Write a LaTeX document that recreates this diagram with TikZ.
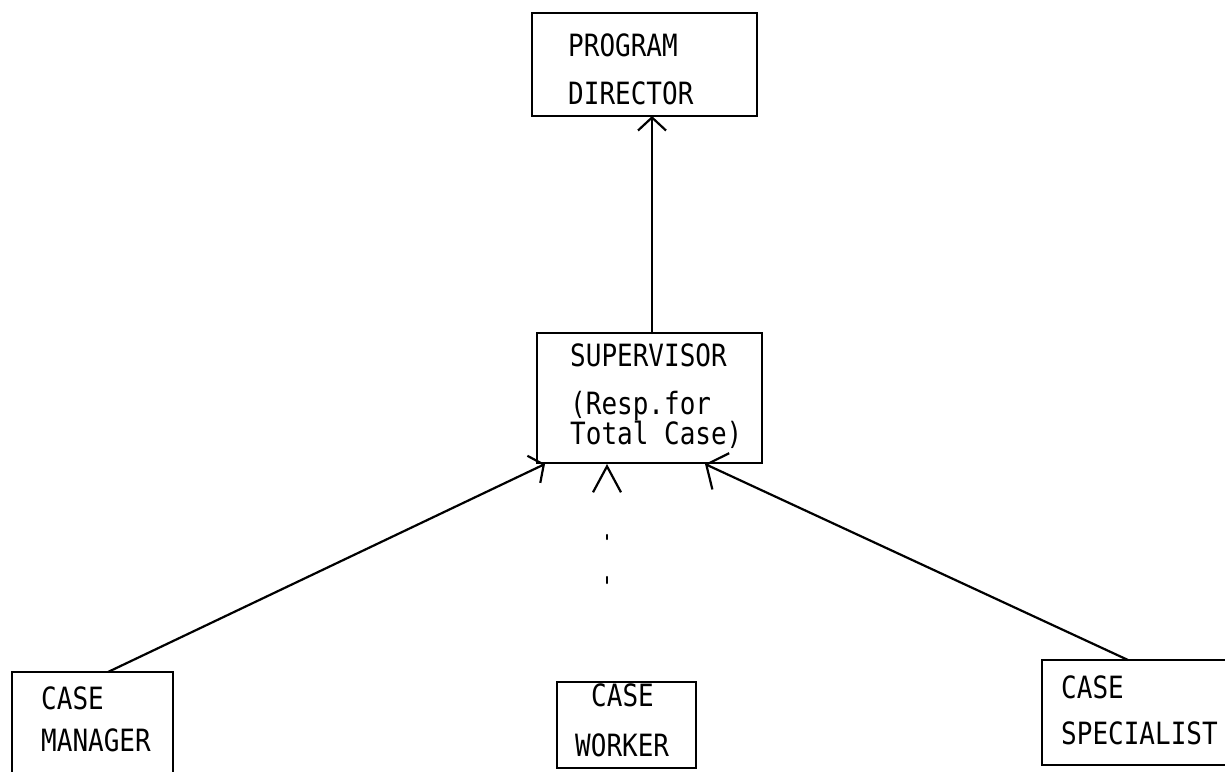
\documentclass[tikz,border=0pt]{standalone}
\usepackage{fontspec}
\usepackage{graphicx}
\newfontfamily\tw{DejaVu Sans Mono}
\newcommand{\tall}[1]{\scalebox{1}[1.18]{#1}}
\usetikzlibrary{arrows.meta,calc}
\begin{document}
\begin{tikzpicture}[x=1pt,y=-1pt,
  box/.style={draw,line width=2.8pt,inner sep=0pt,outer sep=0pt},
  lbl/.style={anchor=base west,inner sep=0pt,font=\tw\fontsize{26}{26}\selectfont},
  link/.style={line width=2.2pt,line cap=round},
]
\useasboundingbox (0,0) rectangle (1225,771);
\clip (0,0) rectangle (1225,771);

% boxes
\node[box,minimum width=225pt,minimum height=103pt] (pd)  at (644.5,64.5) {};
\node[box,minimum width=225pt,minimum height=130pt] (sup) at (649.5,398) {};
\node[box,minimum width=161pt,minimum height=128pt] (mgr) at (92.5,736) {};
\node[box,minimum width=139pt,minimum height=86pt]  (wkr) at (626.5,725) {};
\node[box,minimum width=193pt,minimum height=105pt] (spc) at (1138.5,712.5) {};

% box texts
\node[lbl] (t1) at (568,56)  {\tall{PROGRAM}};
\node[lbl] (t2) at (568,104) {\tall{DIRECTOR}};
\node[lbl] (t3) at (570,366) {\tall{SUPERVISOR}};
\node[lbl] (t4) at (570,414) {\tall{(Resp.for}};
\node[lbl] (t5) at (570,444) {\tall{Total Case)}};
\node[lbl] (t6) at (41,709)  {\tall{CASE}};
\node[lbl] (t7) at (41,751)  {\tall{MANAGER}};
\node[lbl] (t8) at (591,706) {\tall{CASE}};
\node[lbl] (t9) at (575,756) {\tall{WORKER}};
\node[lbl] (t10) at (1061,698) {\tall{CASE}};
\node[lbl] (t11) at (1061,744) {\tall{SPECIALIST}};

% reporting lines
\draw[link,-{Straight Barb[length=13pt,width=28pt]}]
  ($(sup.north west)+(115,0)$) -- ($(pd.south west)+(120,0)$);
\draw[link,-{Straight Barb[length=11pt,width=30pt]}]
  ($(mgr.north west)+(96,0)$) -- ($(sup.south west)+(8,1)$);
\draw[link,dash pattern=on 6pt off 38pt on 4pt off 99pt,dash phase=48pt,
  -{Straight Barb[length=26pt,width=28pt]}]
  ($(wkr.north west)+(50,0)$) -- ($(sup.south west)+(70,1)$);
\draw[link,-{Straight Barb[length=16pt,width=40pt]}]
  ($(spc.north west)+(86,0)$) -- ($(sup.south west)+(168,1)$);
\end{tikzpicture}
\end{document}
